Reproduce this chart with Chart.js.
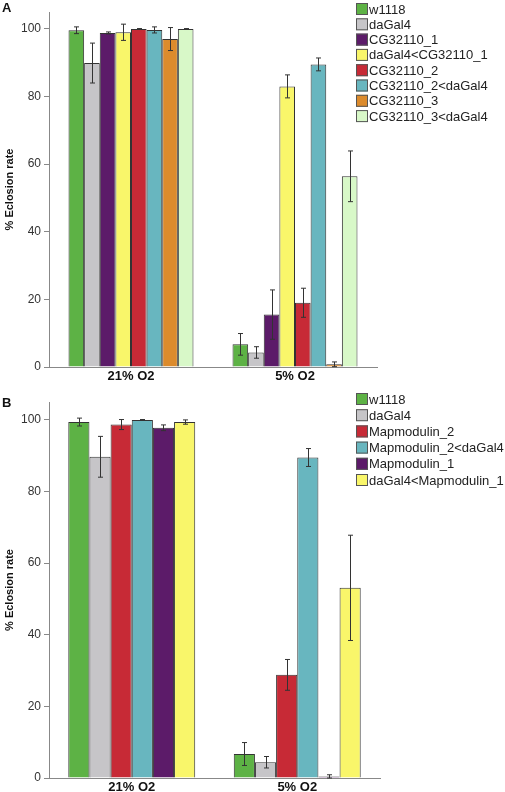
<!DOCTYPE html>
<html>
<head>
<meta charset="utf-8">
<script src="https://cdn.jsdelivr.net/npm/chart.js@4.4.1/dist/chart.umd.min.js"></script>
<style>
  body { margin: 0; background: #fff; width: 505px; height: 792px; position: relative; overflow: hidden; }
  .panel { position: absolute; left: 0; width: 505px; }
  .tag { position: absolute; left: 2px; font: bold 13px "Liberation Sans", Arial, sans-serif; color: #111; }
</style>
</head>
<body>
<div class="panel" style="top:0;height:390px"><canvas id="chartA"></canvas></div>
<div class="panel" style="top:390px;height:402px"><canvas id="chartB"></canvas></div>
<div class="tag" style="top:0px">A</div>
<div class="tag" style="top:395px">B</div>
<script>
/* ---------- data ---------- */
const groups = ["21% O2", "5% O2"];
const yTicks = [0, 20, 40, 60, 80, 100];

// panel A
const linesA = ["w1118", "daGal4", "CG32110_1", "daGal4<CG32110_1", "CG32110_2", "CG32110_2<daGal4", "CG32110_3", "CG32110_3<daGal4"];
const meanA21 = [99.6, 89.9, 98.8, 99.0, 100, 99.7, 97.0, 100];
const meanA5  = [6.7, 4.3, 15.5, 83.0, 19.0, 89.5, 0.8, 56.4];
const errA21  = [1.0, 5.9, 0.3, 2.4, 0.1, 0.9, 3.4, 0.1];
const errA5   = [3.2, 1.7, 7.3, 3.4, 4.3, 1.9, 0.7, 7.5];

// panel B
const linesB = ["w1118", "daGal4", "Mapmodulin_2", "Mapmodulin_2<daGal4", "Mapmodulin_1", "daGal4<Mapmodulin_1"];
const meanB21 = [99.4, 89.7, 98.7, 100, 97.8, 99.4];
const meanB5  = [6.7, 4.4, 28.8, 89.5, 0.4, 53.1];
const errB21  = [1.1, 5.7, 1.4, 0.1, 0.8, 0.6];
const errB5   = [3.2, 1.6, 4.3, 2.5, 0.5, 14.7];

// colours
const colorsA = ["#5db245", "#c6c5c8", "#5c1b69", "#f9f66a", "#c72a36", "#68b6bf", "#dc8b2c", "#d8f8c8"];
const colorsB = ["#5db245", "#c6c5c8", "#c72a36", "#68b6bf", "#5c1b69", "#f9f66a"];

const FONT = "'Liberation Sans', Arial, sans-serif";

/* ---------- error bars ---------- */
const errorBars = {
  id: "errorBars",
  afterDatasetsDraw(chart) {
    const ctx = chart.ctx, y = chart.scales.y;
    ctx.save();
    ctx.strokeStyle = "#333";
    ctx.lineWidth = 1;
    chart.data.datasets.forEach((ds, i) => {
      chart.getDatasetMeta(i).data.forEach((bar, j) => {
        const m = ds.data[j], e = ds.err[j];
        const top = y.getPixelForValue(m + e);
        const bot = y.getPixelForValue(Math.max(0, m - e));
        const x = Math.round(bar.x) + 0.5;
        ctx.beginPath();
        ctx.moveTo(x, top); ctx.lineTo(x, bot);
        ctx.moveTo(x - 2.5, top); ctx.lineTo(x + 2.5, top);
        ctx.moveTo(x - 2.5, bot); ctx.lineTo(x + 2.5, bot);
        ctx.stroke();
      });
    });
    ctx.restore();
  }
};

/* ---------- legend in the top right ---------- */
const sideLegend = {
  id: "sideLegend",
  afterDraw(chart, args, opts) {
    const ctx = chart.ctx;
    ctx.save();
    ctx.font = "13px " + FONT;
    ctx.textBaseline = "middle";
    chart.data.datasets.forEach((ds, i) => {
      const cy = opts.top + i * opts.step;
      ctx.fillStyle = ds.backgroundColor;
      ctx.fillRect(opts.x, cy - 6, 12, 12);
      ctx.strokeStyle = "#555";
      ctx.strokeRect(opts.x + 0.5, cy - 5.5, 11, 11);
      ctx.fillStyle = "#222";
      ctx.fillText(ds.label, opts.x + 13, cy + 1);
    });
    ctx.restore();
  }
};

function makeChart(id, lines, m21, m5, e21, e5, colors, layout) {
  const datasets = lines.map((name, i) => ({
    label: name,
    data: [m21[i], m5[i]],
    err: [e21[i], e5[i]],
    backgroundColor: colors[i],
    borderColor: "#333",
    borderWidth: 1,
    borderSkipped: "bottom",
    categoryPercentage: layout.cat,
    barPercentage: 1
  }));
  return new Chart(document.getElementById(id), {
    type: "bar",
    data: { labels: groups, datasets },
    plugins: [errorBars, sideLegend],
    options: {
      responsive: true,
      maintainAspectRatio: false,
      animation: false,
      layout: { padding: { top: layout.top, right: layout.right, left: 0, bottom: 0 } },
      plugins: {
        legend: { display: false },
        tooltip: { enabled: false },
        sideLegend: layout.legend
      },
      scales: {
        x: {
          grid: { display: false, drawTicks: false, tickLength: 0 },
          border: { color: "#888", width: 1 },
          ticks: { color: "#111", padding: 2, font: { family: FONT, size: 13, weight: "bold" } },
          afterFit(s) { s.height = layout.xh; }
        },
        y: {
          min: 0,
          max: 105,
          afterBuildTicks(s) { s.ticks = yTicks.map(v => ({ value: v })); },
          grid: { drawOnChartArea: false, tickLength: 5, color: "#888" },
          border: { color: "#888", width: 1 },
          ticks: { color: "#333", padding: 3, font: { family: FONT, size: 12 } },
          title: {
            display: true,
            text: "% Eclosion rate",
            color: "#111",
            padding: { top: 3, bottom: 0 },
            font: { family: FONT, size: 11, weight: "bold" }
          },
          afterFit(s) { s.width = 49; }
        }
      }
    }
  });
}

makeChart("chartA", linesA, meanA21, meanA5, errA21, errA5, colorsA,
  { cat: 0.762, top: 12, right: 128, xh: 23, legend: { x: 356, top: 9, step: 15.3 } });
makeChart("chartB", linesB, meanB21, meanB5, errB21, errB5, colorsB,
  { cat: 0.767, top: 12, right: 125, xh: 14, legend: { x: 356, top: 9, step: 16.2 } });
</script>
</body>
</html>
